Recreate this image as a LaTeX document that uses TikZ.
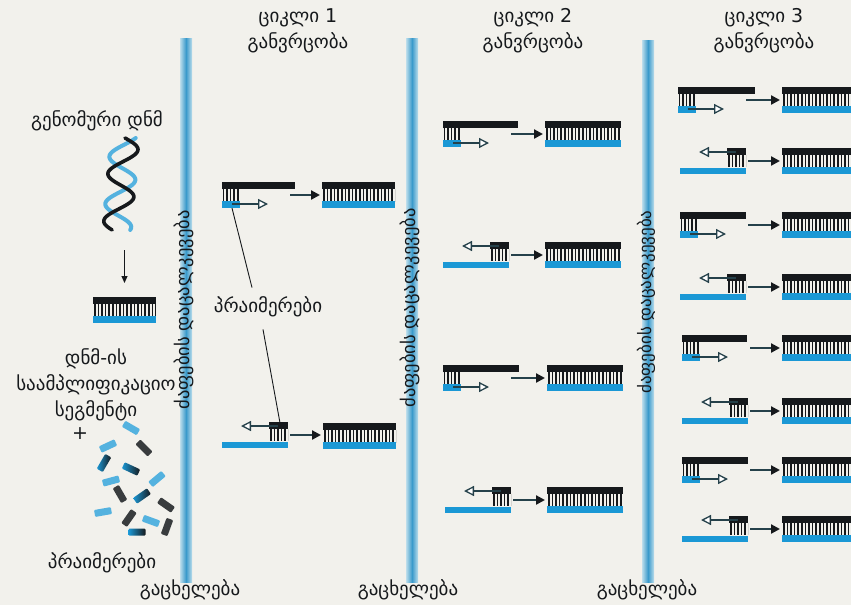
\documentclass[tikz,border=0pt]{standalone}
\usepackage{fontspec}
\setmainfont{DejaVu Sans}
\usetikzlibrary{arrows.meta,calc}

\definecolor{paper}{HTML}{F2F1EC}
\definecolor{ink}{HTML}{16191C}
\definecolor{dnablue}{HTML}{1B98D5}
\definecolor{shaft}{HTML}{25414A}
\definecolor{barblue}{HTML}{3A9ACB}
\definecolor{barpale}{HTML}{BCDDEB}

\tikzset{
  label/.style={font=\fontsize{19}{26}\selectfont, text=ink, inner sep=0pt},
  barlabel/.style={font=\fontsize{18.5}{20}\selectfont, text=ink, inner sep=0pt, rotate=90},
  comb/.style={draw=ink, line width=13pt, dash pattern=on 1.6pt off 2.0pt},
  product/.style={minimum width=#1, minimum height=26pt, inner sep=0pt, outer sep=0pt,
    anchor=north west,
    path picture={
      \draw[comb] ([xshift=1pt]path picture bounding box.west) -- (path picture bounding box.east);
      \fill[ink] (path picture bounding box.north west) rectangle ([yshift=-6.5pt]path picture bounding box.north east);
      \fill[dnablue] ([yshift=7pt]path picture bounding box.south west) rectangle (path picture bounding box.south east);
    }},
  flow/.style={draw=shaft, line width=2.2pt, -{Triangle[length=9pt,width=9pt,color=ink]}, shorten >=2pt},
  extend/.style={draw=shaft, line width=1.8pt, -{Triangle[length=10pt,width=10pt,fill=white,line width=1.3pt]}},
  pointer/.style={draw=ink, line width=0.9pt},
  bar/.style={left color=barpale, right color=barpale, middle color=barblue},
  bit/.style={minimum width=17pt, minimum height=7pt, inner sep=0pt, rounded corners=1pt},
  bitb/.style={bit, fill=dnablue!75},
  bitk/.style={bit, fill=ink!85},
  bitm/.style={bit, left color=dnablue, right color=ink},
}

% template strand read forward: long strand on top, primer bound at its left end
\newcommand\fwdtemplate[4]{% name, x, top, strand length
  \draw[comb, line width=12pt] (#2+0.5,#3+12.5) -- (#2+18,#3+12.5);
  \fill[ink] (#2,#3) rectangle (#2+#4,#3+6.5);
  \fill[dnablue] (#2,#3+19) rectangle (#2+18,#3+26);
  \draw[extend] (#2+10,#3+22) -- (#2+46,#3+22);
  \coordinate (#1) at (#2+68,#3+13);
  \coordinate (#1p) at (#2+10,#3+26);
}
% template strand read backward: long strand below, primer bound at its right end
\newcommand\revtemplate[4]{% name, x, top, strand length
  \draw[comb, line width=12pt] (#2+#4-18,#3+12.5) -- (#2+#4,#3+12.5);
  \fill[ink] (#2+#4-19,#3) rectangle (#2+#4,#3+6.5);
  \fill[dnablue] (#2,#3+20) rectangle (#2+#4,#3+26);
  \draw[extend] (#2+#4-10,#3+4) -- (#2+#4-47,#3+4);
  \coordinate (#1) at (#2+#4+2,#3+13);
  \coordinate (#1p) at (#2+#4-8,#3+1);
}

\begin{document}
\begin{tikzpicture}[x=1pt,y=-1pt]
\useasboundingbox (0,0) rectangle (851,605);
\fill[paper] (0,0) rectangle (851,605);
\clip (0,0) rectangle (851,605);

% ---- heating / separation bars
\shade[bar] (180,38) rectangle (192,582);
\shade[bar] (406,38) rectangle (418,582);
\shade[bar] (642,40) rectangle (654,582);
\node[barlabel] (sep1) at (184,310) {ძაფების დაცალკევება};
\node[barlabel] (sep2) at (410,308) {ძაფების დაცალკევება};
\node[barlabel, font=\fontsize{17}{19}\selectfont] (sep3) at (646,302) {ძაფების დაცალკევება};
\node[label] (heat1) at (190,590) {გაცხელება};
\node[label] (heat2) at (408,590) {გაცხელება};
\node[label] (heat3) at (647,590) {გაცხელება};

% ---- column headings
\node[label, align=center] (cyc1) at (298,31) {ციკლი 1\\განვრცობა};
\node[label, align=center] (cyc2) at (533,31) {ციკლი 2\\განვრცობა};
\node[label, align=center] (cyc3) at (764,31) {ციკლი 3\\განვრცობა};

% ---- starting material
\node[label] (genomic) at (97,121) {გენომური დნმ};
\draw[dnablue!75, line width=4pt, line cap=round]
  plot[domain=0:1, samples=90, smooth] ({125-8*\x+14*sin(\x*700+130)}, {138+92*\x});
\draw[ink, line width=3.6pt, line cap=round]
  plot[domain=0:1, samples=90, smooth] ({125-8*\x+14*sin(\x*700)}, {138+92*\x});
\coordinate (hx) at (124.5,250);
\node[product=63pt] (g0) at (93,297) {};
\draw[ink, line width=1pt, -{Triangle[length=7pt,width=6pt]}, shorten >=14pt] (hx) -- (hx |- g0.north);

\node[label, align=center] (segment) at (96,385) {დნმ-ის\\საამპლიფიკაციო\\სეგმენტი};
\node[label] (plus) at (80,434) {+};
\foreach \px/\py/\a/\s [count=\i] in {
  131/428/-30/bitb, 108/446/25/bitb, 144/448/-45/bitk, 104/463/60/bitm,
  131/469/-25/bitm, 157/479/40/bitb, 111/481/15/bitb, 120/494/-60/bitk,
  142/496/35/bitm, 166/505/-35/bitk, 103/512/10/bitb, 129/518/55/bitk,
  151/521/-20/bitb, 167/527/70/bitk, 137/532/0/bitm}
  \node[\s, rotate=\a] (bit\i) at (\px,\py) {};
\node[label] (primers0) at (102,563) {პრაიმერები};

% ---- cycle 1
\fwdtemplate{a1}{222}{182}{73}
\node[product=73pt] (p1) at (322,182) {};
\draw[flow] (a1) -- (a1 -| p1.west);
\revtemplate{a2}{222}{422}{66}
\node[product=73pt] (p2) at (323,423) {};
\draw[flow] (a2) -- (a2 -| p2.west);
\node[label] (primers1) at (268,307) {პრაიმერები};
\draw[pointer] (a1p) -- ([xshift=-16pt,yshift=9pt]primers1.north);
\draw[pointer] ([xshift=-5pt,yshift=-12pt]primers1.south) -- (a2p);

% ---- cycle 2
\fwdtemplate{b1}{443}{121}{75}
\node[product=76pt] (q1) at (545,121) {};
\draw[flow] (b1) -- (b1 -| q1.west);
\revtemplate{b2}{443}{242}{66}
\node[product=76pt] (q2) at (545,242) {};
\draw[flow] (b2) -- (b2 -| q2.west);
\fwdtemplate{b3}{443}{365}{76}
\node[product=76pt] (q3) at (547,365) {};
\draw[flow] (b3) -- (b3 -| q3.west);
\revtemplate{b4}{445}{487}{66}
\node[product=76pt] (q4) at (547,487) {};
\draw[flow] (b4) -- (b4 -| q4.west);

% ---- cycle 3
\fwdtemplate{c1}{678}{87}{77}
\node[product=76pt] (r1) at (782,87) {};
\draw[flow] (c1) -- (c1 -| r1.west);
\revtemplate{c2}{680}{148}{66}
\node[product=76pt] (r2) at (782,148) {};
\draw[flow] (c2) -- (c2 -| r2.west);
\fwdtemplate{c3}{680}{212}{66}
\node[product=76pt] (r3) at (782,212) {};
\draw[flow] (c3) -- (c3 -| r3.west);
\revtemplate{c4}{680}{274}{66}
\node[product=76pt] (r4) at (782,274) {};
\draw[flow] (c4) -- (c4 -| r4.west);
\fwdtemplate{c5}{682}{335}{65}
\node[product=76pt] (r5) at (782,335) {};
\draw[flow] (c5) -- (c5 -| r5.west);
\revtemplate{c6}{682}{398}{66}
\node[product=76pt] (r6) at (782,398) {};
\draw[flow] (c6) -- (c6 -| r6.west);
\fwdtemplate{c7}{682}{457}{66}
\node[product=76pt] (r7) at (782,457) {};
\draw[flow] (c7) -- (c7 -| r7.west);
\revtemplate{c8}{682}{516}{66}
\node[product=76pt] (r8) at (782,516) {};
\draw[flow] (c8) -- (c8 -| r8.west);
\end{tikzpicture}
\end{document}
